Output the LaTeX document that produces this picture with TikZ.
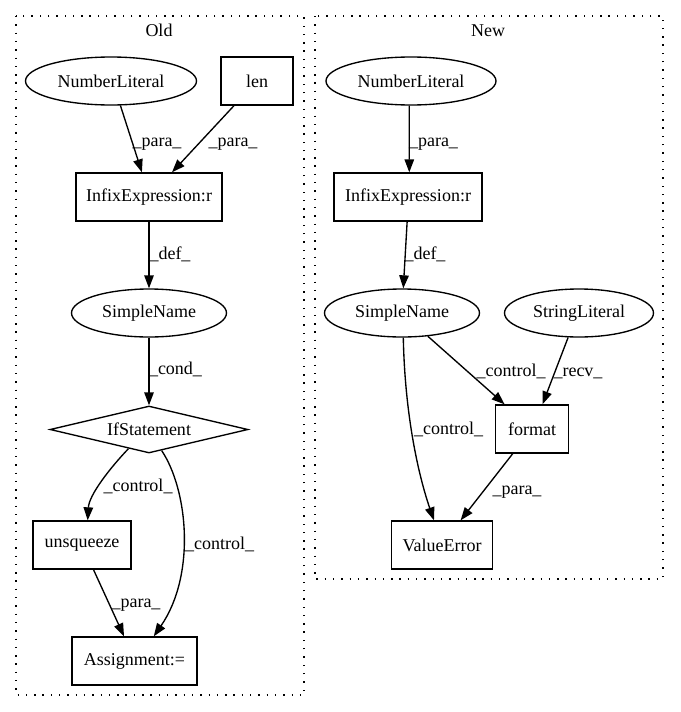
\documentclass[tikz,border=0pt]{standalone}
\usepackage{fontspec}
\setmainfont{Liberation Serif}
\usetikzlibrary{shapes.geometric,arrows.meta}
\begin{document}
\begin{tikzpicture}[x=1pt,y=-1pt,
  every node/.style={font=\fontsize{18}{21}\selectfont},
  box/.style={draw,line width=1.35pt,rectangle,inner sep=0pt,minimum height=48pt},
  ell/.style={draw,line width=1.35pt,ellipse,inner sep=0pt,minimum height=48pt},
  dia/.style={draw,line width=1.35pt,diamond,inner sep=0pt,shape aspect=4},
  edge/.style={line width=1.35pt,-{Triangle[length=13pt,width=9.5pt]}},
  elabel/.style={inner sep=0pt,text height=12pt,text depth=4pt},
  cluster/.style={draw,line width=1.4pt,dash pattern=on 1.4pt off 6.9pt}]
\useasboundingbox (0,0) rectangle (680,712);
% clusters
\draw[cluster] (16,16) rectangle (304,695);
\draw[cluster] (315,16) rectangle (663,579);
\node[elabel] (told) at (159,32) {Old};
\node[elabel] (tnew) at (488,32) {New};
% Old nodes
\node[ell,minimum width=171pt] (onl) at (111,81) {NumberLiteral};
\node[box,minimum width=72pt] (olen) at (257,81) {len};
\node[box,minimum width=146pt] (oinf) at (149,197) {InfixExpression:r};
\node[ell,minimum width=155pt] (osn) at (149,313) {SimpleName};
\node[dia,minimum width=198pt,minimum height=47pt] (oif) at (149,429.5) {IfStatement};
\node[box,minimum width=98pt] (ounsq) at (82,545) {unsqueeze};
\node[box,minimum width=125pt] (oasg) at (134.5,661) {Assignment:=};
% New nodes
\node[ell,minimum width=170pt] (nnl) at (411,81) {NumberLiteral};
\node[box,minimum width=148pt] (ninf) at (408,197) {InfixExpression:r};
\node[ell,minimum width=155pt] (nsn) at (402,313) {SimpleName};
\node[ell,minimum width=149pt] (nstr) at (579,313) {StringLiteral};
\node[box,minimum width=73pt] (nfmt) at (532,429) {format};
\node[box,minimum width=101pt] (nve) at (442,545) {ValueError};
% Old edges
\draw[edge] (onl.-69) -- (oinf.106);
\draw[edge] (olen.227.5) -- (oinf.47.5);
\draw[edge] (oinf) -- (osn);
\draw[edge] (osn) -- (oif);
\draw[edge] (oif.223) .. controls (110,468) and (89,495) .. (ounsq.77.7);
\draw[edge] (oif.301) .. controls (188,490) and (196,575) .. (oasg.52.4);
\draw[edge] (ounsq.-65.4) -- (oasg.113.6);
% New edges
\draw[edge] (nnl.-94.8) -- (ninf.87.6);
\draw[edge] (ninf.-92.4) -- (nsn.87.6);
\draw[edge] (nsn.-42) -- (nfmt.138.5);
\draw[edge] (nstr.-114.6) -- (nfmt.67.4);
\draw[edge] (nsn.-87.6) .. controls (405,420) and (420,480) .. (nve.108.4);
\draw[edge] (nfmt.-128.4) -- (nve.53.1);
% Old labels
\node[elabel] (l1) at (157,142) {\_para\_};
\node[elabel] (l2) at (233,142) {\_para\_};
\node[elabel] (l3) at (170,255) {\_def\_};
\node[elabel] (l4) at (175.5,370) {\_cond\_};
\node[elabel] (l5) at (138,487) {\_control\_};
\node[elabel] (l6) at (219.5,545) {\_control\_};
\node[elabel] (l7) at (136,603) {\_para\_};
% New labels
\node[elabel] (m1) at (433.5,142) {\_para\_};
\node[elabel] (m2) at (425,255) {\_def\_};
\node[elabel] (m3) at (511,372) {\_control\_};
\node[elabel] (m4) at (578,372) {\_recv\_};
\node[elabel] (m5) at (448.5,430) {\_control\_};
\node[elabel] (m6) at (517,490) {\_para\_};
\end{tikzpicture}
\end{document}
